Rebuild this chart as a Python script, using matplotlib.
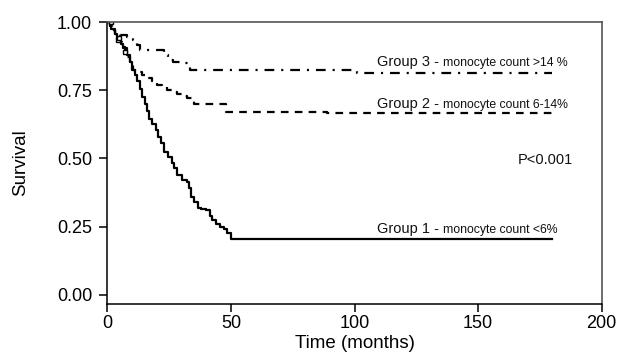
"""Kaplan-Meier survival by monocyte count group."""

import numpy as np
import matplotlib
matplotlib.use("Agg")
import matplotlib.pyplot as plt

plt.rcParams["font.family"] = ["Liberation Sans", "DejaVu Sans"]
plt.rcParams["lines.scale_dashes"] = False

# step curves: event time (months) -> survival after the step
g1_t = [0, 1.5, 3, 4, 5.5, 6.5, 8, 9, 10, 11, 12, 13, 14, 15, 16, 17, 18,
        19.5, 20.5, 21.5, 23, 24.5, 26, 27, 28, 30, 32, 33, 34, 35, 36.5,
        38, 40, 41.5, 42.5, 44, 45.5, 47, 48.5, 50]
g1_s = [1.0, 0.975, 0.955, 0.935, 0.92, 0.905, 0.88, 0.855, 0.825, 0.805,
        0.785, 0.755, 0.725, 0.70, 0.675, 0.645, 0.625, 0.605, 0.58, 0.555,
        0.525, 0.505, 0.485, 0.465, 0.44, 0.42, 0.415, 0.39, 0.36, 0.34,
        0.32, 0.315, 0.31, 0.29, 0.275, 0.26, 0.25, 0.24, 0.225, 0.205]

g2_t = [0, 1, 2, 3, 4, 5, 6, 7, 8, 9, 10.5, 12, 14, 16, 18, 20, 22, 24,
        26, 28, 30, 32, 35, 48, 89]
g2_s = [1.0, 0.985, 0.97, 0.955, 0.94, 0.925, 0.91, 0.89, 0.87, 0.85,
        0.825, 0.815, 0.805, 0.795, 0.785, 0.77, 0.76, 0.75, 0.745, 0.738,
        0.73, 0.72, 0.70, 0.67, 0.665]

g3_t = [0, 1, 2, 3, 5, 8, 10.5, 12, 13, 23, 24.5, 26.5, 29.5, 32.5, 33.5, 101]
g3_s = [1.0, 0.985, 0.97, 0.96, 0.952, 0.945, 0.934, 0.916, 0.897, 0.879,
        0.861, 0.853, 0.848, 0.842, 0.824, 0.812]

t_end = 180
censor_g1 = [1.4, 4.2]
censor_g2 = [4.7, 7.0]

groups = [
    ("Group 3 - ", "monocyte count >14 %", g3_t, g3_s, (0, (7, 5, 1.5, 5))),
    ("Group 2 - ", "monocyte count 6-14%", g2_t, g2_s, (0, (5.5, 4.5))),
    ("Group 1 - ", "monocyte count <6%", g1_t, g1_s, "-"),
]
label_y = [0.826, 0.675, 0.217]


def surv_at(t, ts, ss):
    idx = np.searchsorted(ts, t, side="right") - 1
    return ss[idx]


fig = plt.figure(figsize=(6.21, 3.55), dpi=100)
ax = fig.add_axes([0.173, 0.144, 0.796, 0.794])

for (big, small, ts, ss, ls), ly in zip(groups, label_y):
    ax.step(ts + [t_end], ss + [ss[-1]], where="post", color="black",
            linewidth=1.6, linestyle=ls)
    t1 = ax.text(109, ly, big, fontsize=10.5, va="bottom", ha="left",
                 color="#111111")
    ax.annotate(small, xy=(1, 0), xycoords=t1, fontsize=8.8,
                va="bottom", ha="left", color="#111111")

for cts, ts, ss in [(censor_g1, g1_t, g1_s), (censor_g2, g2_t, g2_s)]:
    ys = [surv_at(c, ts, ss) for c in cts]
    ax.plot(cts, ys, "s", markersize=3.5, markerfacecolor="white",
            markeredgecolor="black", markeredgewidth=1)

ax.text(188.5, 0.494, "P<0.001", fontsize=10.5, ha="right", va="center",
        color="#111111")

ax.set_xlim(0, 200)
ax.set_ylim(-0.033, 1.0)
ax.set_xticks([0, 50, 100, 150, 200])
ax.set_yticks([0.0, 0.25, 0.5, 0.75, 1.0])
ax.set_yticklabels(["0.00", "0.25", "0.50", "0.75", "1.00"])
ax.tick_params(direction="out", length=6, width=1.1, labelsize=13,
               colors="black")
ax.tick_params(axis="x", pad=2)
ax.tick_params(axis="y", pad=5)
for side in ["left", "bottom"]:
    ax.spines[side].set_linewidth(1.1)
for side in ["top", "right"]:
    ax.spines[side].set_linewidth(1.2)
    ax.spines[side].set_color("#555555")

ax.set_xlabel("Time (months)", fontsize=13.5, labelpad=2)
ax.set_ylabel("Survival", fontsize=13.5, labelpad=20)

fig.savefig("out.png", dpi=100)
plt.close(fig)
